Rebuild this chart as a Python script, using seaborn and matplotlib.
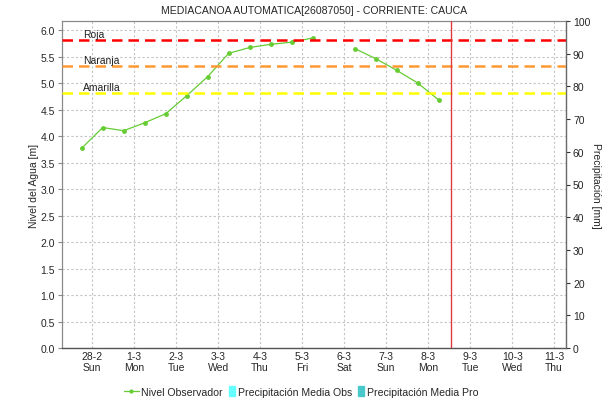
import matplotlib
matplotlib.use("Agg")
import matplotlib.pyplot as plt
import matplotlib.dates as mdates
from matplotlib.lines import Line2D
from matplotlib.patches import Patch, Rectangle
from matplotlib.legend_handler import HandlerPatch
import pandas as pd
import seaborn as sns

# --- datos ---
titulo = "MEDIACANOA AUTOMATICA[26087050] - CORRIENTE: CAUCA"

fechas_nivel = [
    "2021-02-27 18:00", "2021-02-28 06:00", "2021-02-28 18:00",
    "2021-03-01 06:00", "2021-03-01 18:00", "2021-03-02 06:00",
    "2021-03-02 18:00", "2021-03-03 06:00", "2021-03-03 18:00",
    "2021-03-04 06:00", "2021-03-04 18:00", "2021-03-05 06:00",
    "2021-03-06 06:00", "2021-03-06 18:00", "2021-03-07 06:00",
    "2021-03-07 18:00", "2021-03-08 06:00",
]
nivel = [3.77, 4.16, 4.10, 4.25, 4.42, 4.76, 5.12, 5.56, 5.67,
         5.73, 5.77, 5.85, 5.65, 5.46, 5.24, 5.00, 4.68]

umbrales_nombres = ["Roja", "Naranja", "Amarilla"]
umbrales_valores = [5.82, 5.32, 4.82]
umbrales_colores = ["#ff0000", "#ff9933", "#ffff00"]

fechas_precip = []
precip_obs = []
precip_pro = []

hora_actual = "2021-03-08 13:00"
rango_x = ["2021-02-27 06:45", "2021-03-11 06:45"]

serie_nombres = ["Nivel Observador", "Precipitación Media Obs", "Precipitación Media Pro"]
serie_colores = ["#66cc33", "#66ffff", "#48c9c9"]

# --- estilo ---
sns.set_style("white")
plt.rcParams["font.family"] = ["Liberation Sans", "DejaVu Sans"]

df = pd.DataFrame({"fecha": pd.to_datetime(fechas_nivel), "nivel": nivel})
# un tramo nuevo cada vez que falta una lectura (salto > 12 h)
df["tramo"] = (df["fecha"].diff() > pd.Timedelta(hours=12)).cumsum()

fig = plt.figure(figsize=(6.12, 4.02), dpi=100)
ax = fig.add_axes([62 / 612, 53 / 402, 504 / 612, 327 / 402])

grid_kw = dict(color="#c4c4c4", linestyle=(0, (2, 2)), linewidth=0.8)
ax.grid(True, **grid_kw)
ax.set_axisbelow(True)

sns.lineplot(data=df, x="fecha", y="nivel", units="tramo", estimator=None,
             color=serie_colores[0], marker="o", markersize=3.5,
             markeredgewidth=0, linewidth=0.9, ax=ax, legend=False)

for nombre, valor, color in zip(umbrales_nombres, umbrales_valores, umbrales_colores):
    ax.axhline(valor, color=color, linewidth=1.8, linestyle=(0, (4.2, 2.4)), zorder=3)
    ax.annotate(nombre, xy=(0.042, valor), xycoords=("axes fraction", "data"),
                xytext=(0, 4), textcoords="offset points",
                ha="left", va="center", fontsize=7.5, color="#222222", zorder=4)

ax.axvline(pd.Timestamp(hora_actual), color="#e03a3a", linewidth=1.0, zorder=3)

ax.set_xlim(pd.Timestamp(rango_x[0]), pd.Timestamp(rango_x[1]))
ax.set_ylim(0, 6.17)
ax.set_yticks([i * 0.5 for i in range(13)])
ax.yaxis.set_major_formatter(matplotlib.ticker.FormatStrFormatter("%.1f"))
ax.xaxis.set_major_locator(mdates.DayLocator())
ax.xaxis.set_major_formatter(mdates.DateFormatter("%-d-%-m\n%a"))

ax.set_xlabel("")
ax.set_ylabel("Nivel del Agua [m]", fontsize=7.5, labelpad=1)
ax.tick_params(axis="y", which="major", direction="out", length=3, width=0.8,
               color="#888888", labelsize=7.5, pad=2, left=True)
ax.tick_params(axis="x", which="major", length=0, labelsize=7.5, pad=2,
               bottom=True)

for lado in ["left", "right", "top"]:
    ax.spines[lado].set_color("#8a8a8a")
    ax.spines[lado].set_linewidth(0.9)
ax.spines["bottom"].set_color("#555555")
ax.spines["bottom"].set_linestyle((0, (1, 1)))
ax.spines["bottom"].set_linewidth(1.0)

# eje de precipitación
ax2 = ax.twinx()
ax2.bar(fechas_precip, precip_obs, color=serie_colores[1])
ax2.bar(fechas_precip, precip_pro, color=serie_colores[2])
ax2.set_ylim(0, 100)
ax2.set_yticks(range(0, 101, 10))
ax2.set_ylabel("Precipitación [mm]", fontsize=7.5, rotation=270, labelpad=8)
ax2.tick_params(axis="y", direction="out", length=3, width=0.8, color="#333333",
                labelsize=7.5, pad=2, right=True)
for lado in ["left", "right", "top", "bottom"]:
    ax2.spines[lado].set_visible(lado == "right")
ax2.spines["right"].set_color("#6a6a6a")
ax2.spines["right"].set_linewidth(0.9)
ax2.set_xlim(pd.Timestamp(rango_x[0]), pd.Timestamp(rango_x[1]))

fig.text((62 + 566) / 2 / 612, 1 - 11 / 402, titulo, ha="center", va="center",
         fontsize=7.6)


def muestra_estrecha(legend, orig_handle, xdescent, ydescent, width, height, fontsize):
    # rectángulo angosto pegado al texto de la entrada
    alto, ancho = 7.4, 4.4
    return Rectangle((-xdescent + width - ancho, -ydescent + (height - alto) / 2),
                     ancho, alto)


manejadores = [
    Line2D([], [], color=serie_colores[0], marker="o", markersize=3,
           markeredgewidth=0, linewidth=0.9),
    Patch(color=serie_colores[1]),
    Patch(color=serie_colores[2]),
]
mapa = {manejadores[1]: HandlerPatch(patch_func=muestra_estrecha),
        manejadores[2]: HandlerPatch(patch_func=muestra_estrecha)}
fig.legend(manejadores, serie_nombres, loc="center", ncol=3, frameon=False,
           bbox_to_anchor=(301 / 612, 1 - 393 / 402), fontsize=7.6,
           handlelength=1.4, handletextpad=0.25, columnspacing=-0.25,
           handler_map=mapa)

fig.savefig("out.png", dpi=100)
